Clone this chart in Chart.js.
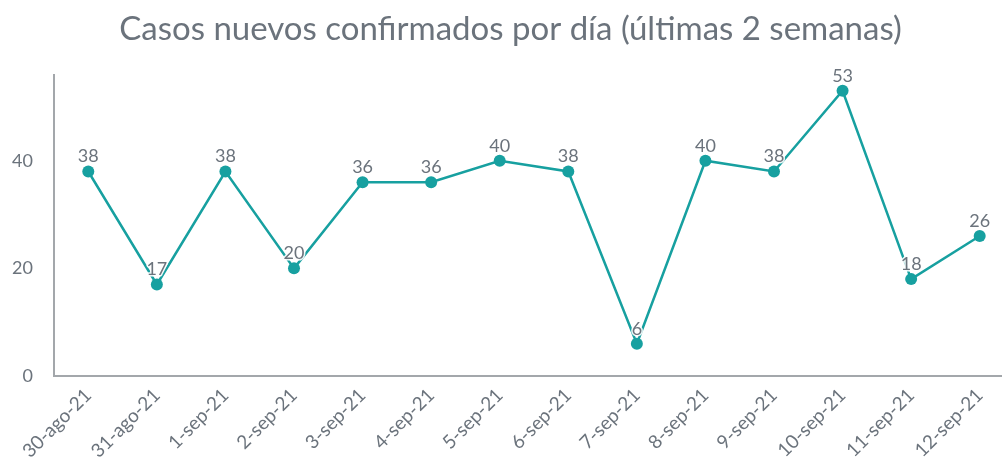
<!DOCTYPE html>
<html><head><meta charset="utf-8">
<script src="https://cdn.jsdelivr.net/npm/chart.js@4"></script>
<style>html,body{margin:0;padding:0;background:#fff;overflow:hidden;width:1002px;height:460px}#wrap{width:1020px;height:460px}</style>
</head><body><div id="wrap"><canvas id="c" width="1020" height="460"></canvas></div>
<script>
const categories = ["30-ago-21","31-ago-21","1-sep-21","2-sep-21","3-sep-21","4-sep-21","5-sep-21","6-sep-21","7-sep-21","8-sep-21","9-sep-21","10-sep-21","11-sep-21","12-sep-21"];
const casos = [38,17,38,20,36,36,40,38,6,40,38,53,18,26];
const yTicks = [0,20,40];
const titleText = "Casos nuevos confirmados por día (últimas 2 semanas)";

const grey = "#6b737c";
const teal = "#17a0a0";

const labelPlugin = {
  id: "ptlabels",
  afterDatasetsDraw(chart) {
    const ctx = chart.ctx;
    const meta = chart.getDatasetMeta(0);
    ctx.save();
    ctx.font = "18px Lato";
    ctx.textAlign = "center";
    ctx.textBaseline = "bottom";
    ctx.lineJoin = "round";
    meta.data.forEach((pt, i) => {
      const t = String(casos[i]);
      ctx.strokeStyle = "rgba(255,255,255,0.9)";
      ctx.lineWidth = 3;
      ctx.strokeText(t, pt.x, pt.y - 6);
      ctx.fillStyle = grey;
      ctx.fillText(t, pt.x, pt.y - 6);
    });
    ctx.restore();
  }
};

new Chart(document.getElementById("c"), {
  type: "line",
  data: {
    labels: categories,
    datasets: [{
      data: casos,
      borderColor: teal,
      backgroundColor: teal,
      borderWidth: 2.5,
      pointRadius: 6,
      pointHoverRadius: 6,
      pointBackgroundColor: teal,
      pointBorderWidth: 0,
      tension: 0
    }]
  },
  options: {
    responsive: false,
    animation: false,
    layout: { padding: { left: 1, right: 0, top: 0, bottom: 0 } },
    plugins: {
      legend: { display: false },
      tooltip: { enabled: false },
      title: {
        display: true,
        text: titleText,
        color: grey,
        font: { family: "Lato", size: 33, weight: "normal" },
        padding: { top: 10, bottom: 25 }
      }
    },
    scales: {
      x: {
        offset: true,
        grid: { display: false, drawTicks: false },
        border: { display: true, color: "#a3a7ab", width: 2 },
        afterFit(scale) { scale.height = 84; },
        ticks: {
          color: grey,
          font: { family: "Lato", size: 19 },
          maxRotation: 45, minRotation: 45,
          padding: 8,
          autoSkip: false
        }
      },
      y: {
        min: 0, max: 56,
        grid: { display: false, drawTicks: false },
        border: { display: true, color: "#a3a7ab", width: 2 },
        afterFit(scale) { scale.width = 53; },
        afterBuildTicks(scale) {
          scale.ticks = yTicks.map(v => ({ value: v }));
        },
        ticks: {
          color: grey,
          font: { family: "Lato", size: 18 },
          padding: 21
        }
      }
    }
  },
  plugins: [labelPlugin]
});
</script>
</body></html>
